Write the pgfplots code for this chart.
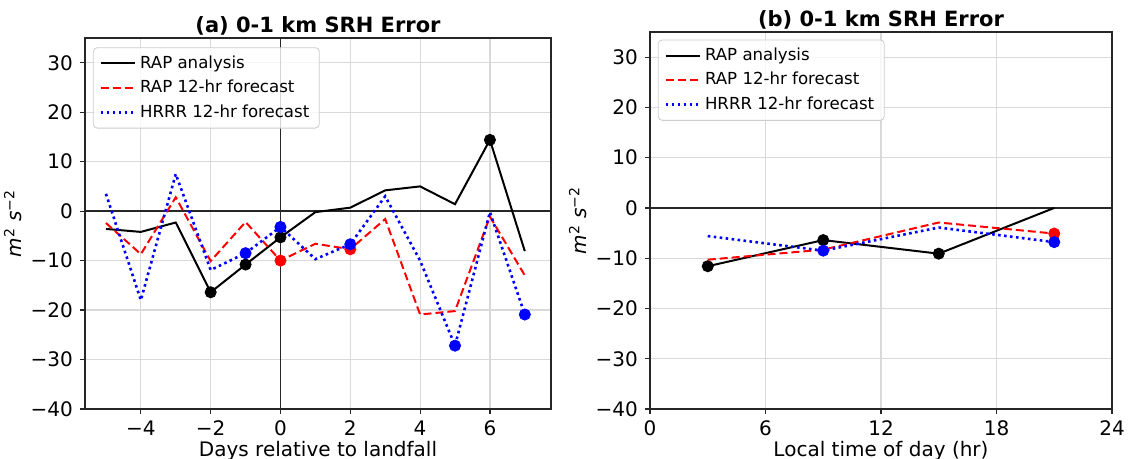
\documentclass[border=0pt]{standalone}
\usepackage{fontspec}
\setmainfont{DejaVu Sans}
\usepackage{pgfplots}
\pgfplotsset{compat=1.18}

\pgfplotsset{
 srh/.style={
  scale only axis,
  ymin=-40, ymax=35,
  ytick={-40,-30,-20,-10,0,10,20,30},
  yticklabels={−40,−30,−20,−10,0,10,20,30},
  grid=major,
  major grid style={black!15, line width=0.6pt},
  axis line style={black!85, line width=0.6pt},
  tick align=outside,
  major tick length=2.5pt,
  tick style={black!85, line width=0.6pt},
  xtick pos=bottom, ytick pos=left,
  tick label style={font=\fontsize{10}{12}\selectfont},
  label style={font=\fontsize{10}{12}\selectfont},
  xlabel style={yshift=4.5pt},
  ylabel style={yshift=-2.5pt},
  title style={font=\bfseries\fontsize{10.5}{12}\selectfont, at={(0.5,1)}, anchor=base, yshift=-3.2pt},
  ylabel={\textit{m}\textsuperscript{2} \textit{s}\textsuperscript{−2}},
  legend style={font=\fontsize{8.3}{10}\selectfont, draw=black!20, rounded corners=2pt, fill=white, fill opacity=0.8, text opacity=1, anchor=north west, row sep=0.4pt},
  legend cell align=left,
 },
 anl/.style={black, line width=1pt},
 rapf/.style={red, line width=1pt, dash pattern=on 4pt off 2pt},
 hrrr/.style={blue, line width=1.3pt, dash pattern=on 1.3pt off 1.7pt},
 dots/.style={only marks, mark=*, mark size=2.8pt, forget plot},
}

\begin{document}
\begin{tikzpicture}
\path[use as bounding box] (0,0) rectangle (564.5pt,229.5pt);

% ---------------- panel (a)
\begin{axis}[srh,
  at={(42.5pt,25pt)}, anchor=south west,
  width=233pt, height=185.5pt,
  xmin=-5.6, xmax=7.75,
  xtick={-4,-2,0,2,4,6},
  xticklabels={−4,−2,0,2,4,6},
  xlabel={Days relative to landfall},
  title={(a) 0-1 km SRH Error},
  legend style={at={(0.017,0.975)}},
]
\addplot[black!85, line width=0.7pt, forget plot] coordinates {(-5.6,0) (7.75,0)};
\addplot[black!85, line width=0.7pt, forget plot] coordinates {(0,-40) (0,35)};
\addplot[anl] coordinates {
(-5,-3.6) (-4,-4.2) (-3,-2.3) (-2,-16.4) (-1,-10.8) (0,-5.3) (1,-0.2)
(2,0.7) (3,4.2) (4,5.0) (5,1.4) (6,14.4) (7,-8.1)};
\addlegendentry{RAP analysis}
\addplot[rapf] coordinates {
(-5,-2.4) (-4,-8.7) (-3,2.8) (-2,-10.1) (-1,-2.2) (0,-10.0) (1,-6.6)
(2,-7.7) (3,-1.6) (4,-20.9) (5,-20.2) (6,-1.1) (7,-13.0)};
\addlegendentry{RAP 12-hr forecast}
\addplot[hrrr] coordinates {
(-5,3.5) (-4,-18.0) (-3,7.5) (-2,-11.9) (-1,-8.5) (0,-3.2) (1,-9.7)
(2,-6.7) (3,3.0) (4,-10.0) (5,-27.2) (6,-0.2) (7,-20.9)};
\addlegendentry{HRRR 12-hr forecast}
\addplot[dots, black] coordinates {(-2,-16.4) (-1,-10.8) (0,-5.3) (6,14.4)};
\addplot[dots, red] coordinates {(0,-10.0) (2,-7.7)};
\addplot[dots, blue] coordinates {(-1,-8.5) (0,-3.2) (2,-6.7) (5,-27.2) (7,-20.9)};
\end{axis}

% ---------------- panel (b)
\begin{axis}[srh,
  at={(325pt,25pt)}, anchor=south west,
  width=231pt, height=188.5pt,
  xmin=0, xmax=24,
  xtick={0,6,12,18,24},
  xticklabels={0,6,12,18,24},
  xlabel={Local time of day (hr)},
  title={(b) 0-1 km SRH Error},
  title style={yshift=-0.3pt},
  legend style={at={(0.017,0.98)}},
]
\addplot[black!85, line width=0.7pt, forget plot] coordinates {(0,0) (24,0)};
\addplot[anl] coordinates {(3,-11.6) (9,-6.4) (15,-9.1) (21,0)};
\addlegendentry{RAP analysis}
\addplot[rapf] coordinates {(3,-10.3) (9,-8.3) (15,-2.9) (21,-5.1)};
\addlegendentry{RAP 12-hr forecast}
\addplot[hrrr] coordinates {(3,-5.6) (9,-8.5) (15,-3.9) (21,-6.8)};
\addlegendentry{HRRR 12-hr forecast}
\addplot[dots, black] coordinates {(3,-11.6) (9,-6.4) (15,-9.1)};
\addplot[dots, red] coordinates {(21,-5.1)};
\addplot[dots, blue] coordinates {(9,-8.5) (21,-6.8)};
\end{axis}
\end{tikzpicture}
\end{document}
